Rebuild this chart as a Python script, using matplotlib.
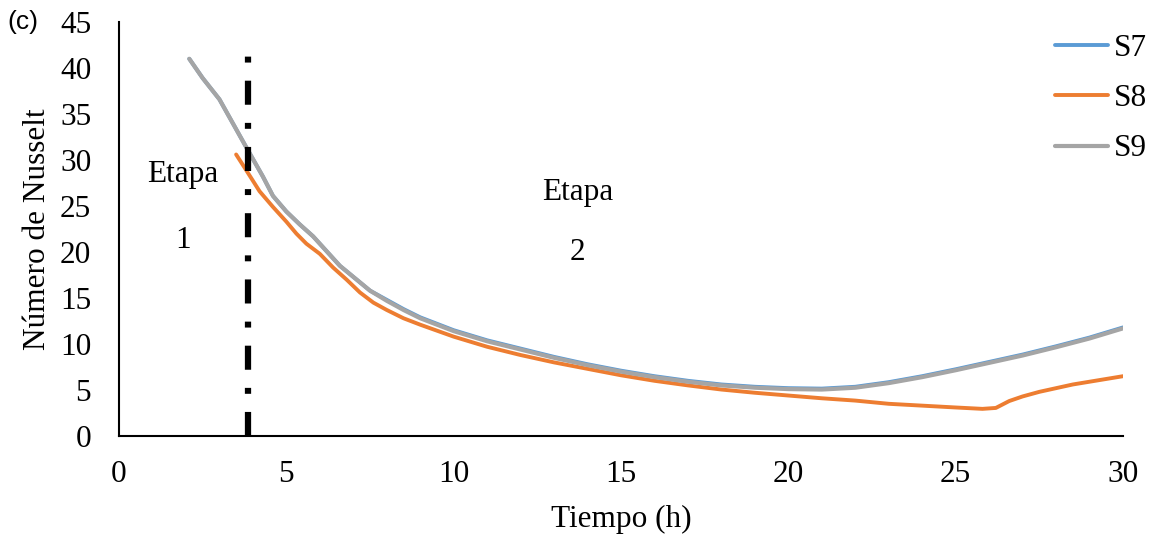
import matplotlib
matplotlib.use("Agg")
import matplotlib.pyplot as plt

# ---- data ----
x_s79 = [2.1, 2.5, 3.0, 3.4, 3.8, 4.3, 4.6, 5.0, 5.4, 5.8, 6.2, 6.6, 7.0, 7.5, 8.0, 8.5,
         9, 10, 11, 12, 13, 14, 15, 16, 17, 18, 19, 20, 21, 22, 23, 24, 25, 26, 27, 28, 29, 30]
s9 = [41.0, 38.9, 36.6, 34.0, 31.4, 28.2, 26.1, 24.4, 23.0, 21.7, 20.1, 18.5, 17.3, 15.8, 14.7, 13.7,
      12.8, 11.4, 10.3, 9.4, 8.5, 7.7, 7.0, 6.4, 5.9, 5.5, 5.25, 5.1, 5.05, 5.25, 5.75, 6.4, 7.15,
      7.95, 8.75, 9.65, 10.6, 11.7]
s7 = [41.0, 38.9, 36.6, 34.0, 31.4, 28.2, 26.1, 24.4, 23.0, 21.7, 20.1, 18.5, 17.3, 15.8, 14.8, 13.8,
      12.9, 11.5, 10.4, 9.5, 8.6, 7.8, 7.1, 6.5, 6.0, 5.6, 5.35, 5.2, 5.15, 5.35, 5.85, 6.5, 7.25,
      8.05, 8.85, 9.75, 10.7, 11.8]
x_s8 = [3.5, 3.8, 4.2, 4.6, 5.0, 5.3, 5.6, 6.0, 6.4, 6.8, 7.2, 7.6, 8.0, 8.5, 9, 10, 11, 12, 13,
        14, 15, 16, 17, 18, 19, 20, 21, 22, 23, 24, 25, 25.8, 26.2, 26.6, 27, 27.5, 28, 28.5, 29,
        29.5, 30]
s8 = [30.6, 28.9, 26.6, 24.9, 23.3, 22.0, 20.9, 19.8, 18.3, 17.0, 15.6, 14.5, 13.7, 12.8, 12.1,
      10.8, 9.7, 8.8, 8.0, 7.3, 6.6, 6.0, 5.5, 5.05, 4.7, 4.4, 4.1, 3.85, 3.5, 3.3, 3.1, 2.95,
      3.05, 3.8, 4.3, 4.8, 5.2, 5.6, 5.9, 6.2, 6.5]
stage_x = 3.86
stage_top = 41.4
xticks = [0, 5, 10, 15, 20, 25, 30]
yticks = [0, 5, 10, 15, 20, 25, 30, 35, 40, 45]

serif = ["Liberation Serif", "DejaVu Serif"]
fs = 22.5

fig = plt.figure(figsize=(11.5, 5.37), dpi=100)
ax = fig.add_axes([119 / 1150, 1 - 436 / 537, (1123 - 119) / 1150, (436 - 22) / 537])

ax.plot(x_s79, s7, color="#5B9BD5", lw=2.8, label="S7", solid_capstyle="round", solid_joinstyle="round")
ax.plot(x_s8, s8, color="#ED7D31", lw=2.8, label="S8", solid_capstyle="round", solid_joinstyle="round")
ax.plot(x_s79, s9, color="#A5A5A5", lw=3.0, label="S9", solid_capstyle="round", solid_joinstyle="round")

ax.plot([stage_x, stage_x], [0, stage_top], color="black", lw=4.5,
        dashes=(3.85, 2.9, 0.95, 2.9), dash_capstyle="butt")

ax.set_xlim(0, 30)
ax.set_ylim(0, 45)
ax.set_xticks(xticks)
ax.set_yticks(yticks)
ax.tick_params(length=0, labelsize=fs)
ax.tick_params(axis="y", pad=20)
ax.tick_params(axis="x", pad=17)
for lab in ax.get_xticklabels() + ax.get_yticklabels():
    lab.set_fontfamily(serif)

for s in ["top", "right"]:
    ax.spines[s].set_visible(False)
for s in ["left", "bottom"]:
    ax.spines[s].set_linewidth(1.5)
    ax.spines[s].set_color("black")

ax.set_xlabel("Tiempo (h)", fontsize=fs, family=serif, labelpad=12)
ax.set_ylabel("Número de Nusselt", fontsize=fs, family=serif, labelpad=6)

ax.text(1.9, 28.4, "Etapa", fontsize=fs, family=serif, ha="center", va="center")
ax.text(1.9, 21.3, "1", fontsize=fs, family=serif, ha="center", va="center")
ax.text(13.7, 26.5, "Etapa", fontsize=fs, family=serif, ha="center", va="center")
ax.text(13.7, 20.0, "2", fontsize=fs, family=serif, ha="center", va="center")

fig.text(7 / 1150, 1 - 22 / 537, "(c)", fontsize=19, family=["Liberation Sans", "DejaVu Sans"],
         ha="left", va="center")

leg = ax.legend(loc="upper left", bbox_to_anchor=(1055 / 1150, 1 - 34 / 537),
                bbox_transform=fig.transFigure, frameon=False, prop={"family": serif, "size": fs},
                handlelength=1.7, handletextpad=0.2, labelspacing=0.68, borderpad=0,
                borderaxespad=0)

fig.savefig("out.png", dpi=100)
